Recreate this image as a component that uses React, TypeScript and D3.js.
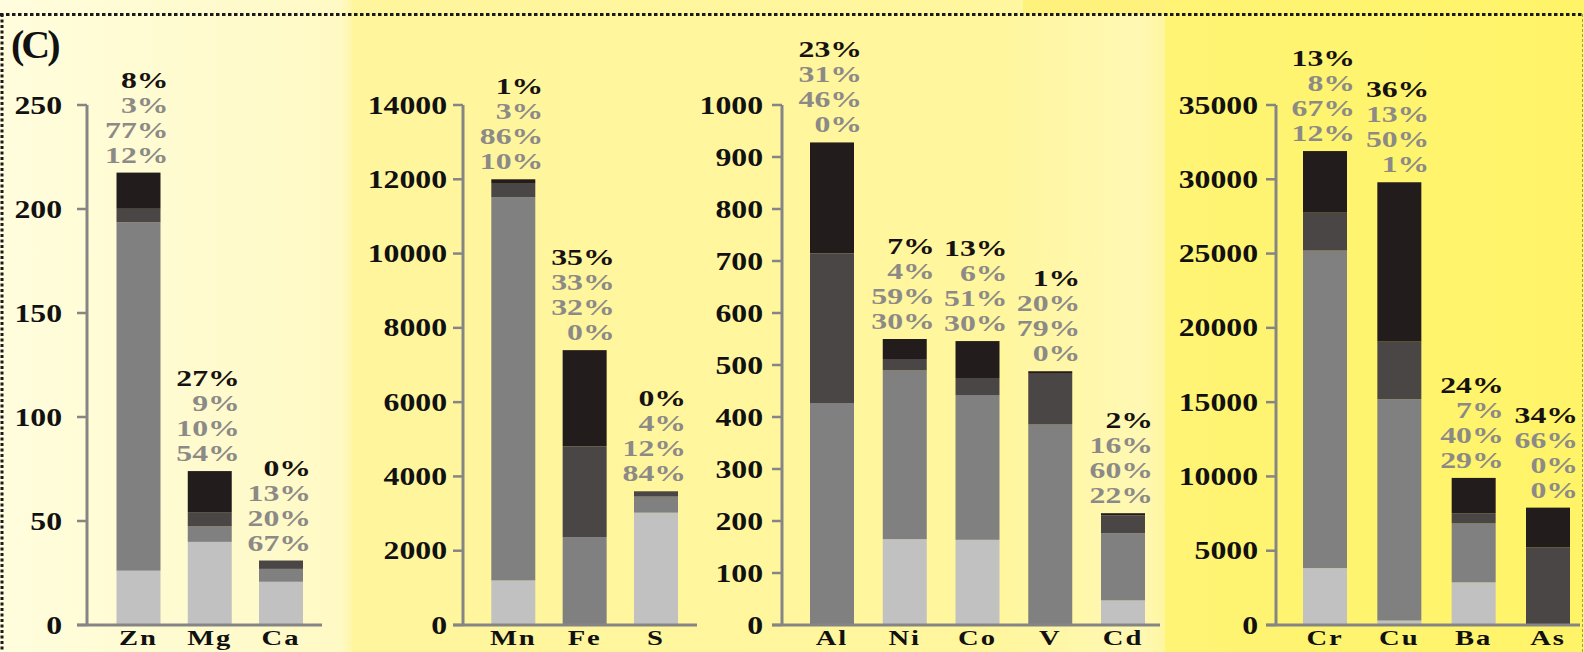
import React from "react";
import * as d3 from "d3";

// Elements, grouped into four panels
const elements = ["Zn", "Mg", "Ca", "Mn", "Fe", "S", "Al", "Ni", "Co", "V", "Cd", "Cr", "Cu", "Ba", "As"];
const panelOf = [0, 0, 0, 1, 1, 1, 2, 2, 2, 2, 2, 3, 3, 3, 3];
// Total concentration of each element
const totals = [217.5, 74, 31, 12000, 7400, 3600, 928, 550, 546, 488, 215, 31900, 29800, 9900, 7900];
// Share (%) of each fraction, from bottom of the stack to the top
const fractionA = [12, 54, 67, 10, 0, 84, 0, 30, 30, 0, 22, 12, 1, 29, 0];
const fractionB = [77, 10, 20, 86, 32, 12, 46, 59, 51, 79, 60, 67, 50, 40, 0];
const fractionC = [3, 9, 13, 3, 33, 4, 31, 4, 6, 20, 16, 8, 13, 7, 66];
const fractionD = [8, 27, 0, 1, 35, 0, 23, 7, 13, 1, 2, 13, 36, 24, 34];
// Y axis of each panel
const axisMax = [250, 14000, 1000, 35000];
const tickStep = [50, 2000, 100, 5000];

const W = 1584;
const H = 652;
const Y_BASE = 625;
const Y_TOP = 105;
const BAR_W = 44;
const FONT = "'Liberation Serif', 'Times New Roman', serif";

const panelLayout = [
  { axisX: 87, labelRight: 62, first: 138.5, last: 281, end: 322 },
  { axisX: 463, labelRight: 447, first: 513.3, last: 656, end: 697 },
  { axisX: 782, labelRight: 763, first: 832, last: 1123, end: 1160 },
  { axisX: 1276, labelRight: 1258, first: 1325, last: 1548, end: 1580 },
];

const fractionKeys = ["a", "b", "c", "d"];
const fractionFill: Record<string, string> = {
  a: "#c1c1c1",
  b: "#818080",
  c: "#4b4646",
  d: "#231c1d",
};

const rows = elements.map((el, i) => ({
  el,
  panel: panelOf[i],
  total: totals[i],
  pct: [fractionA[i], fractionB[i], fractionC[i], fractionD[i]],
  a: (totals[i] * fractionA[i]) / 100,
  b: (totals[i] * fractionB[i]) / 100,
  c: (totals[i] * fractionC[i]) / 100,
  d: (totals[i] * fractionD[i]) / 100,
}));

const stackGen = d3.stack<any>().keys(fractionKeys);

function SText(props: {
  x: number;
  y: number;
  sx: number;
  size: number;
  anchor: "start" | "middle" | "end";
  fill: string;
  spacing?: number;
  children: React.ReactNode;
}) {
  const { x, y, sx, size, anchor, fill, spacing, children } = props;
  return (
    <text
      transform={`translate(${x},${y}) scale(${sx},1)`}
      textAnchor={anchor}
      fontFamily={FONT}
      fontWeight="bold"
      fontSize={size}
      fill={fill}
      letterSpacing={spacing ?? 0}
    >
      {children}
    </text>
  );
}

function Panel({ index }: { index: number }) {
  const layout = panelLayout[index];
  const data = rows.filter((r) => r.panel === index);
  const y = d3.scaleLinear().domain([0, axisMax[index]]).range([Y_BASE, Y_TOP]);
  const x = d3
    .scalePoint<string>()
    .domain(data.map((d) => d.el))
    .range([layout.first, layout.last]);
  const series = stackGen(data);
  const ticks = d3.range(0, axisMax[index] + tickStep[index] / 2, tickStep[index]);
  const axisColor = "#858585";

  return (
    <g>
      {series.map((s) => (
        <g key={s.key} fill={fractionFill[s.key]}>
          {s.map((seg, j) => (
            <rect
              key={j}
              x={(x(data[j].el) as number) - BAR_W / 2}
              y={y(seg[1])}
              width={BAR_W}
              height={Math.max(0, y(seg[0]) - y(seg[1]))}
            />
          ))}
        </g>
      ))}

      {/* axes */}
      <line x1={layout.axisX} x2={layout.axisX} y1={Y_TOP} y2={Y_BASE} stroke={axisColor} strokeWidth={3} />
      <line x1={layout.axisX - 10} x2={layout.end} y1={Y_BASE} y2={Y_BASE} stroke={axisColor} strokeWidth={3} />
      {ticks.map((t) => (
        <g key={t}>
          <line x1={layout.axisX - 10} x2={layout.axisX} y1={y(t)} y2={y(t)} stroke={axisColor} strokeWidth={2.5} />
          <SText x={layout.labelRight} y={y(t) + 8.5} sx={1.27} size={25} anchor="end" fill="#111">
            {t}
          </SText>
        </g>
      ))}

      {/* fraction shares above each bar, top fraction first */}
      {data.map((d) => {
        const cx = x(d.el) as number;
        const top = y(d.total);
        const lines = [d.pct[3], d.pct[2], d.pct[1], d.pct[0]];
        return (
          <g key={d.el}>
            {lines.map((p, k) => (
              <SText
                key={k}
                x={cx + BAR_W / 2 + 8}
                y={top - 10 - (3 - k) * 25}
                sx={1.38}
                size={23}
                anchor="end"
                fill={k === 0 ? "#161212" : "#8c8a87"}
              >
                {`${p}%`}
              </SText>
            ))}
            <SText x={cx} y={645} sx={1.3} size={22} anchor="middle" fill="#111" spacing={1.5}>
              {d.el}
            </SText>
          </g>
        );
      })}
    </g>
  );
}

export default function App() {
  return (
    <svg
      width={W}
      height={H}
      viewBox={`0 0 ${W} ${H}`}
      style={{ position: "absolute", left: 0, top: 0, display: "block" }}
    >
      <defs>
        <linearGradient id="bg1" x1="0" x2="1" y1="0" y2="0">
          <stop offset="0" stopColor="#fffddd" />
          <stop offset="0.97" stopColor="#fff9c4" />
          <stop offset="1" stopColor="#fff6a8" />
        </linearGradient>
        <linearGradient id="bg2" x1="0" x2="1" y1="0" y2="0">
          <stop offset="0" stopColor="#fff59c" />
          <stop offset="0.8" stopColor="#fff69e" />
          <stop offset="0.97" stopColor="#fff8b4" />
          <stop offset="1" stopColor="#fff6a0" />
        </linearGradient>
        <linearGradient id="bg3" x1="0" x2="1" y1="0" y2="0">
          <stop offset="0" stopColor="#fff474" />
          <stop offset="1" stopColor="#fff468" />
        </linearGradient>
      </defs>

      {/* background bands */}
      <rect x={0} y={0} width={352} height={H} fill="url(#bg1)" />
      <rect x={352} y={0} width={813} height={H} fill="url(#bg2)" />
      <rect x={1165} y={0} width={W - 1165} height={H} fill="url(#bg3)" />
      <rect x={1023} y={0} width={142} height={14} fill="#fff27c" />

      {/* frame */}
      <line x1={0} x2={W} y1={14.5} y2={14.5} stroke="#1a1a1a" strokeWidth={3} strokeDasharray="3.5 2.5" />
      <line x1={2} x2={2} y1={14} y2={H} stroke="#1a1a1a" strokeWidth={3} strokeDasharray="3 2.5" />
      <line x1={1582.5} x2={1582.5} y1={14} y2={H} stroke="#a09a70" strokeWidth={1} strokeDasharray="3 2" />

      <text x={11} y={58} fontFamily={FONT} fontWeight="bold" fontSize={40} fill="#111" letterSpacing={-3}>
        (C)
      </text>

      {panelLayout.map((_, i) => (
        <Panel key={i} index={i} />
      ))}
    </svg>
  );
}
